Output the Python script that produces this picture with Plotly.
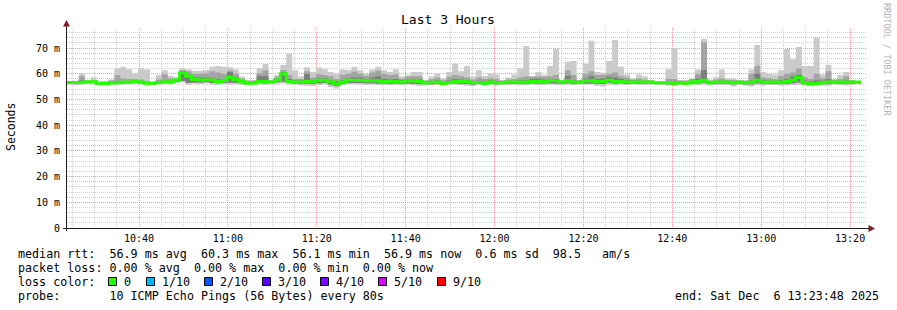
import plotly.graph_objects as go
import pandas as pd

# ---------------- data ----------------
start_time = "2025-12-06 10:23:48"
end_time = "2025-12-06 13:23:48"
step_seconds = 80

# smoke: p10 (max), p9, p8-ish, median, p2, p1 (min)  in ms
hi = [57.2, 57.3, 60.2, 57.6, 58.6, 57.3, 57.3, 57.8, 62.1, 62.7,
      61.8, 60.0, 62.1, 61.7, 56.9, 59.5, 61.4, 59.1, 58.6, 62.1,
      61.7, 61.2, 61.2, 61.5, 62.7, 63.0, 62.7, 62.5, 61.7, 58.9,
      57.6, 57.6, 62.1, 63.8, 57.6, 59.5, 63.4, 67.9, 61.4, 58.9,
      62.5, 60.7, 62.4, 61.8, 60.7, 59.9, 61.7, 61.4, 62.7, 61.4,
      60.0, 61.7, 62.7, 61.4, 60.7, 61.7, 58.9, 59.5, 60.7, 60.7,
      57.6, 58.9, 60.0, 58.2, 60.7, 64.0, 61.0, 63.0, 58.9, 61.4,
      59.1, 60.0, 59.7, 57.6, 58.5, 59.7, 62.1, 70.8, 59.1, 60.7,
      59.5, 63.0, 69.7, 57.6, 64.7, 65.0, 57.6, 64.0, 72.8, 60.7,
      60.4, 65.0, 73.1, 62.7, 59.7, 58.2, 59.7, 58.9, 57.6, 57.0,
      57.0, 61.8, 69.9, 57.6, 57.6, 58.2, 61.7, 73.5, 57.6, 58.6,
      61.7, 58.2, 58.2, 57.6, 57.6, 61.7, 71.2, 60.7, 60.0, 59.7,
      61.4, 69.6, 65.6, 70.4, 63.0, 63.0, 74.1, 59.7, 63.4, 58.0,
      59.5, 60.7, 57.6, 57.0]
hi2 = [56.9, 57.0, 59.0, 57.3, 57.5, 56.8, 56.8, 57.4, 59.5, 58.2,
       58.0, 58.0, 57.8, 57.2, 56.8, 57.8, 59.8, 58.2, 58.2, 61.5,
       61.0, 60.0, 60.0, 60.2, 61.0, 60.5, 60.0, 61.3, 60.0, 58.2,
       57.2, 57.2, 60.2, 61.4, 57.4, 58.8, 61.5, 59.5, 58.0, 58.0,
       61.0, 58.5, 59.8, 59.5, 59.0, 58.0, 59.5, 60.0, 60.8, 60.0,
       59.2, 60.5, 61.2, 60.0, 59.5, 59.8, 58.2, 58.8, 59.0, 59.0,
       57.3, 58.0, 58.5, 57.5, 58.8, 59.5, 59.0, 58.5, 57.8, 58.5,
       58.0, 58.3, 58.0, 57.3, 57.8, 58.0, 58.5, 59.0, 58.8, 59.0,
       58.8, 59.0, 59.5, 57.4, 61.4, 59.5, 57.4, 60.0, 61.0, 59.5,
       59.5, 60.0, 60.5, 59.0, 58.5, 57.8, 58.2, 57.8, 57.4, 56.9,
       56.9, 58.0, 58.0, 57.3, 57.1, 58.0, 60.0, 72.3, 57.2, 57.8,
       58.2, 57.6, 57.5, 57.4, 57.2, 60.0, 63.0, 58.5, 58.3, 58.0,
       59.0, 60.0, 60.5, 62.0, 58.5, 58.0, 60.0, 58.3, 61.0, 57.6,
       58.0, 59.0, 57.4, 56.9]
hi3 = [56.8, 56.8, 57.5, 57.0, 57.1, 56.5, 56.5, 56.8, 57.2, 57.2,
       57.1, 57.2, 57.1, 56.8, 56.5, 57.0, 57.4, 57.3, 58.0, 61.0,
       59.8, 58.5, 58.5, 58.4, 58.3, 58.0, 58.0, 60.7, 58.5, 57.5,
       56.8, 56.8, 59.0, 59.1, 57.1, 58.0, 60.6, 58.0, 57.3, 57.3,
       59.9, 57.6, 58.2, 58.3, 57.6, 57.0, 57.5, 58.2, 58.5, 58.5,
       58.0, 58.5, 59.0, 58.0, 57.8, 58.0, 57.5, 58.0, 57.8, 57.8,
       56.9, 57.2, 57.5, 56.8, 57.5, 58.0, 57.8, 57.5, 57.0, 57.3,
       57.0, 57.5, 57.2, 56.9, 57.2, 57.3, 57.5, 57.5, 58.0, 58.2,
       57.8, 57.9, 58.0, 57.1, 59.2, 57.6, 57.1, 58.2, 59.0, 58.0,
       58.2, 58.8, 58.5, 58.0, 57.5, 57.3, 57.3, 57.2, 57.1, 56.8,
       56.8, 57.0, 57.0, 56.9, 56.8, 57.3, 58.2, 61.5, 56.9, 57.2,
       57.3, 57.2, 57.0, 57.1, 56.9, 57.5, 60.0, 57.5, 57.3, 57.3,
       57.6, 58.0, 59.0, 59.5, 57.3, 57.0, 57.5, 57.3, 58.0, 57.2,
       57.3, 57.5, 57.1, 56.9]
med = [56.6, 56.6, 56.7, 56.9, 56.9, 56.2, 56.2, 56.4, 56.5, 56.8,
       56.8, 57.0, 56.8, 56.3, 56.3, 56.6, 56.9, 56.9, 57.6, 60.4,
       59.1, 57.8, 57.6, 57.6, 57.6, 57.0, 57.4, 58.6, 57.8, 57.0,
       56.3, 56.3, 57.0, 57.0, 56.8, 57.6, 60.0, 57.0, 56.8, 56.8,
       57.0, 56.9, 57.5, 57.5, 56.9, 56.0, 56.8, 57.5, 57.5, 57.5,
       57.3, 57.3, 57.3, 57.0, 57.0, 57.0, 56.8, 57.3, 57.2, 57.0,
       56.5, 56.7, 56.8, 56.2, 56.6, 57.0, 57.0, 56.9, 56.5, 56.6,
       56.3, 56.8, 56.5, 56.5, 56.8, 56.8, 56.8, 56.8, 57.0, 57.0,
       57.0, 57.3, 57.3, 56.8, 57.3, 56.8, 56.8, 57.3, 57.3, 57.0,
       57.0, 57.5, 57.0, 57.0, 56.8, 56.8, 56.8, 56.8, 56.8, 56.5,
       56.5, 56.5, 56.3, 56.5, 56.3, 56.8, 57.0, 57.5, 56.5, 56.8,
       56.8, 56.8, 56.5, 56.8, 56.5, 56.8, 57.5, 56.8, 56.8, 56.8,
       56.8, 57.0, 57.5, 58.5, 56.5, 56.0, 56.3, 56.5, 56.8, 56.8,
       56.8, 56.8, 56.8, 56.8]
lo2 = [56.3, 56.2, 56.2, 56.4, 56.4, 55.9, 55.9, 56.0, 56.1, 56.2,
       56.3, 56.4, 56.3, 55.9, 55.9, 56.2, 56.4, 56.3, 56.8, 57.2,
       56.5, 56.6, 56.6, 56.7, 56.5, 56.3, 56.5, 56.6, 56.5, 56.3,
       56.0, 56.0, 56.3, 56.3, 56.4, 56.7, 57.0, 56.4, 56.2, 56.1,
       56.2, 56.0, 56.3, 56.4, 55.8, 55.2, 56.0, 56.4, 56.4, 56.4,
       56.3, 56.3, 56.2, 56.2, 56.1, 56.2, 56.0, 56.2, 56.1, 56.0,
       55.9, 55.9, 56.0, 55.8, 56.0, 56.2, 56.1, 56.0, 55.8, 56.0,
       55.8, 56.1, 55.9, 56.0, 56.1, 56.1, 56.0, 56.0, 56.2, 56.2,
       56.2, 56.3, 56.2, 56.1, 56.3, 56.0, 56.2, 56.2, 56.2, 56.1,
       56.0, 56.4, 56.2, 56.3, 56.1, 56.2, 56.1, 56.1, 56.2, 56.0,
       56.0, 55.9, 55.8, 56.0, 55.9, 56.1, 56.2, 56.5, 56.0, 56.1,
       56.1, 56.1, 55.9, 56.1, 55.9, 55.9, 56.3, 56.0, 56.1, 56.1,
       56.0, 56.1, 56.3, 56.6, 55.9, 55.6, 55.8, 55.9, 56.0, 56.2,
       56.1, 56.1, 56.2, 56.3]
lo = [55.8, 55.5, 55.8, 56.0, 56.0, 55.6, 55.5, 55.5, 55.7, 55.9,
      55.9, 56.0, 55.9, 55.4, 55.6, 55.8, 56.0, 55.8, 56.3, 56.7,
      55.7, 56.2, 56.0, 56.3, 55.8, 55.6, 56.0, 55.8, 56.0, 55.6,
      55.7, 55.7, 55.9, 55.6, 56.0, 56.1, 56.3, 55.8, 55.8, 55.4,
      55.3, 55.2, 55.5, 55.9, 54.8, 54.3, 55.5, 56.0, 56.0, 55.8,
      55.7, 55.8, 55.6, 55.6, 55.5, 55.6, 55.5, 55.8, 55.5, 55.2,
      55.5, 55.5, 55.6, 55.4, 55.6, 55.8, 55.6, 55.3, 55.2, 55.6,
      55.3, 55.6, 55.4, 55.6, 55.6, 55.7, 55.4, 55.5, 55.8, 55.6,
      55.7, 55.8, 55.7, 55.5, 55.7, 55.5, 55.8, 55.7, 55.8, 55.3,
      55.0, 55.6, 55.5, 55.8, 55.6, 55.8, 55.7, 55.7, 55.9, 55.6,
      55.6, 55.4, 55.2, 55.6, 55.5, 55.7, 55.6, 55.8, 55.4, 55.6,
      55.6, 55.6, 55.0, 55.6, 55.3, 55.0, 55.5, 55.3, 55.6, 55.6,
      55.3, 55.4, 55.6, 55.8, 55.4, 55.2, 55.3, 55.4, 55.3, 55.8,
      55.6, 55.4, 55.8, 56.0]

y_tick_values = [0, 10, 20, 30, 40, 50, 60, 70]
y_tick_labels = ["0", "10 m", "20 m", "30 m", "40 m", "50 m", "60 m", "70 m"]

title_text = "Last 3 Hours"
y_title = "Seconds"
watermark = "RRDTOOL / TOBI OETIKER"
row_median = "median rtt:  56.9 ms avg  60.3 ms max  56.1 ms min  56.9 ms now  0.6 ms sd  98.5   am/s"
row_loss = "packet loss: 0.00 % avg  0.00 % max  0.00 % min  0.00 % now"
row_color_label = "loss color:"
loss_labels = ["0", "1/10", "2/10", "3/10", "4/10", "5/10", "9/10"]
loss_colors = ["#26ff00", "#00b8ff", "#0059ff", "#5e00ff", "#7e00ff", "#dd00ff", "#ff0000"]
row_probe = "probe:       10 ICMP Echo Pings (56 Bytes) every 80s"
row_end = "end: Sat Dec  6 13:23:48 2025"

# ---------------- figure ----------------
W, H = 897, 310
L, R, T, B = 67, 867, 28, 228   # plot area in pixels
Y_MAX = 77.8


def px(x):
    return (x - L) / (R - L)


def py(y):
    return (B - y) / (B - T)


def nb(s):
    return s.replace(" ", "\u00a0")


t0 = pd.Timestamp(start_time)
n = len(med)
edges = [(t0 + pd.Timedelta(seconds=step_seconds * k)).to_pydatetime() for k in range(n + 1)]


def ext(a):
    return list(a) + [a[-1]]


fig = go.Figure()
bands = [(lo, hi, "#cacaca"), (lo2, hi2, "#a4a4a4"), (lo2, hi3, "#7e7e7e")]
for low, up, col in bands:
    fig.add_trace(go.Scatter(x=edges, y=ext(low), mode="lines",
                             line=dict(width=0, shape="hv"), hoverinfo="skip",
                             showlegend=False))
    fig.add_trace(go.Scatter(x=edges, y=ext(up), mode="lines",
                             line=dict(width=0, shape="hv"), fill="tonexty",
                             fillcolor=col, hoverinfo="skip", showlegend=False))
fig.add_trace(go.Scatter(x=edges, y=ext(med), mode="lines",
                         line=dict(width=3, shape="hv", color=loss_colors[0]),
                         showlegend=False))

mono = "DejaVu Sans Mono"
minor_grid = "#d0d0d0"
major_grid = "#f09a9a"

# minor grid positions that do not coincide with the major ones
minor_x = [t.strftime("%Y-%m-%d %H:%M:%S")
           for t in pd.date_range("2025-12-06 10:25:00", "2025-12-06 13:20:00", freq="5min")
           if t.minute % 20 != 0]
minor_y = [v for v in range(2, int(Y_MAX) + 1, 2) if v % 10 != 0]

fig.update_layout(
    width=W, height=H, autosize=False,
    margin=dict(l=L, r=W - R, t=T, b=H - B, pad=0),
    paper_bgcolor="white", plot_bgcolor="white",
    font=dict(family=mono, size=10, color="black"),
    showlegend=False,
)
fig.update_xaxes(
    type="date", range=[start_time, end_time],
    tick0="2025-12-06 10:40:00", dtick=20 * 60 * 1000, tickformat="%H:%M",
    showgrid=True, gridcolor=major_grid, griddash="1px,1px", gridwidth=1,
    minor=dict(tickmode="array", tickvals=minor_x, showgrid=True,
               gridcolor=minor_grid, griddash="1px,1px", gridwidth=1),
    showline=False, zeroline=False, ticks="", tickfont=dict(family=mono, size=10),
    ticklabelstandoff=3,
    layer="above traces",
)
fig.update_yaxes(
    range=[0, Y_MAX], tickvals=y_tick_values, ticktext=y_tick_labels,
    showgrid=True, gridcolor=major_grid, griddash="1px,1px", gridwidth=1,
    minor=dict(tickmode="array", tickvals=minor_y, showgrid=True, gridcolor=minor_grid,
               griddash="1px,1px", gridwidth=1),
    showline=False, zeroline=False, ticks="", tickfont=dict(family=mono, size=10),
    ticklabelstandoff=6,
    layer="above traces",
)

shapes = []
axis_col = "#1f1f1f"
arrow_col = "#7f1f1f"
# axis lines
shapes.append(dict(type="line", xref="paper", yref="paper", x0=px(66.5), x1=px(66.5),
                   y0=py(231), y1=py(24), line=dict(color=axis_col, width=1), layer="above"))
shapes.append(dict(type="line", xref="paper", yref="paper", x0=px(63), x1=px(870),
                   y0=py(228.5), y1=py(228.5), line=dict(color=axis_col, width=1), layer="above"))
# arrows
shapes.append(dict(type="path", xref="paper", yref="paper",
                   path=f"M {px(66.5)} {py(20)} L {px(63)} {py(26.5)} L {px(70)} {py(26.5)} Z",
                   fillcolor=arrow_col, line=dict(width=0), layer="above"))
shapes.append(dict(type="path", xref="paper", yref="paper",
                   path=f"M {px(875)} {py(228.5)} L {px(868.5)} {py(225)} L {px(868.5)} {py(232)} Z",
                   fillcolor=arrow_col, line=dict(width=0), layer="above"))

annotations = []
annotations.append(dict(text=title_text, xref="paper", yref="paper", x=px(448), y=py(19),
                        xanchor="center", yanchor="middle", showarrow=False,
                        font=dict(family=mono, size=13)))
annotations.append(dict(text=y_title, xref="paper", yref="paper", x=px(11), y=py(127),
                        xanchor="center", yanchor="middle", textangle=-90, showarrow=False,
                        font=dict(family=mono, size=11.5)))
annotations.append(dict(text=nb(watermark), xref="paper", yref="paper", x=px(887), y=py(60),
                        xanchor="center", yanchor="middle", textangle=90, showarrow=False,
                        font=dict(family=mono, size=8.5, color="#b4b4b4")))

legend_font = dict(family=mono, size=11.7, color="black")
for txt, yy in [(row_median, 254), (row_loss, 268), (row_color_label, 282), (row_probe, 296)]:
    annotations.append(dict(text=nb(txt), xref="paper", yref="paper", x=px(16), y=py(yy),
                            xanchor="left", yanchor="middle", showarrow=False, font=legend_font))
annotations.append(dict(text=nb(row_end), xref="paper", yref="paper", x=px(881), y=py(296),
                        xanchor="right", yanchor="middle", showarrow=False, font=legend_font))

box_x = [108, 146, 204, 262, 320, 378, 437]
for bx, lab, col in zip(box_x, loss_labels, loss_colors):
    shapes.append(dict(type="rect", xref="paper", yref="paper",
                       x0=px(bx + 0.5), x1=px(bx + 8.5), y0=py(277.5), y1=py(285.5),
                       fillcolor=col, line=dict(color="black", width=1), layer="above"))
    annotations.append(dict(text=nb(lab), xref="paper", yref="paper", x=px(bx + 14), y=py(282),
                            xanchor="left", yanchor="middle", showarrow=False, font=legend_font))

fig.update_layout(shapes=shapes, annotations=annotations)

# rrdtool draws its grid pixel-snapped: rewrite each grid path in absolute,
# pixel-centred coordinates so every dotted line is one crisp pixel wide.
snap_js = r"""
(function(){
  function snap(v){ return Math.floor(v) + 0.5; }
  function parseT(t){
    if(!t) return [0,0];
    var m = t.match(/translate\(\s*([-\d.e]+)(?:[\s,]+([-\d.e]+))?\s*\)/);
    if(!m) return [0,0];
    return [parseFloat(m[1]) || 0, parseFloat(m[2] || '0') || 0];
  }
  function fix(){
    document.querySelectorAll('.gridlayer path, .minor-gridlayer path').forEach(function(p){
      if (p.getAttribute('data-snapped')) return;
      var bb;
      try { bb = p.getBBox(); } catch(e) { return; }
      var tr = parseT(p.getAttribute('transform'));
      var x0 = bb.x + tr[0], y0 = bb.y + tr[1];
      var d;
      if (bb.height >= bb.width) {
        d = 'M' + snap(x0) + ',' + Math.round(y0) + 'v' + Math.round(bb.height);
      } else {
        d = 'M' + Math.round(x0) + ',' + snap(y0) + 'h' + Math.round(bb.width);
      }
      p.removeAttribute('transform');
      p.setAttribute('d', d);
      p.style.shapeRendering = 'crispEdges';
      p.setAttribute('data-snapped', '1');
    });
  }
  fix();
  setTimeout(fix, 50);
  setTimeout(fix, 300);
})();
"""
fig.write_html("out.html", post_script=snap_js)
